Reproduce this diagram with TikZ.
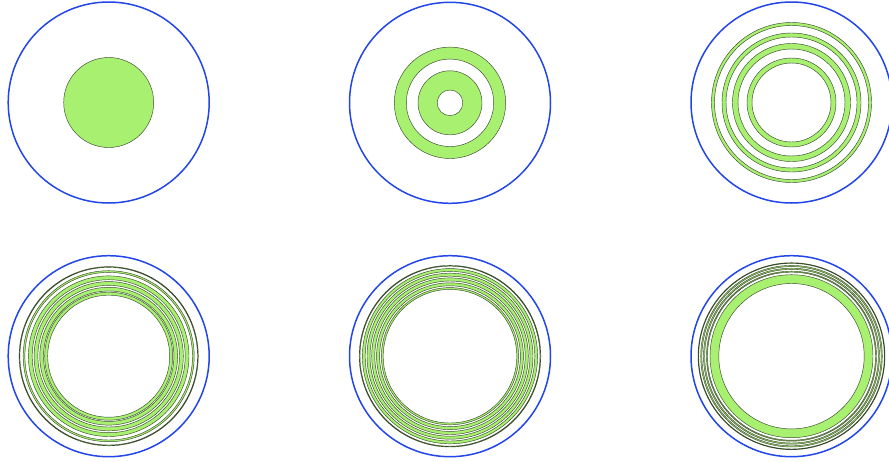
\documentclass[tikz,border=0pt]{standalone}
\definecolor{ringgreen}{RGB}{168,240,112}
\definecolor{outerblue}{RGB}{35,70,232}
\definecolor{edgedark}{RGB}{60,72,50}
\tikzset{
  outer/.style={draw=outerblue,line width=1.5pt},
  ring/.style={draw=edgedark,fill=ringgreen,even odd rule,line width=0.45pt},
}
\newcommand{\myring}[3]{\path[ring] (#1) circle (#2) (#1) circle (#3);}
\begin{document}
\begin{tikzpicture}[x=1pt,y=-1pt]
\useasboundingbox (0,0) rectangle (889,461);
\fill[white] (0,0) rectangle (889,461);
\clip (0,0) rectangle (889,461);
\coordinate (c1) at (108.7,102.5);
\coordinate (c2) at (450,102.8);
\coordinate (c3) at (791.5,102.5);
\coordinate (c4) at (108.7,356.2);
\coordinate (c5) at (450,356.2);
\coordinate (c6) at (791.5,356.2);
% panel 1
\draw[outer] (c1) circle (100.5);
\path[ring] (c1) circle (45);
% panel 2
\draw[outer] (c2) circle (100.5);
\myring{c2}{55.7}{43.7}
\myring{c2}{32}{12.8}
% panel 3
\draw[outer] (c3) circle (100.5);
\myring{c3}{80}{77}
\myring{c3}{69.5}{65.5}
\myring{c3}{59}{53.5}
\myring{c3}{44.5}{39.5}
% panel 4
\draw[outer] (c4) circle (100.5);
\myring{c4}{89.6}{88.8}
\myring{c4}{85.5}{83.8}
\myring{c4}{80.3}{76.5}
\myring{c4}{74.6}{70.8}
\myring{c4}{68.9}{65.2}
\myring{c4}{64}{61}
% panel 5
\draw[outer] (c5) circle (100.5);
\myring{c5}{90.8}{90}
\myring{c5}{87.6}{84.8}
\myring{c5}{83}{80}
\myring{c5}{78.3}{75.2}
\myring{c5}{73.4}{70.4}
\myring{c5}{68.6}{66.8}
% panel 6
\draw[outer] (c6) circle (100.5);
\myring{c6}{93.5}{92.8}
\myring{c6}{90.8}{89.6}
\myring{c6}{88}{86.8}
\myring{c6}{85}{84}
\myring{c6}{81.5}{72.7}
\end{tikzpicture}
\end{document}
